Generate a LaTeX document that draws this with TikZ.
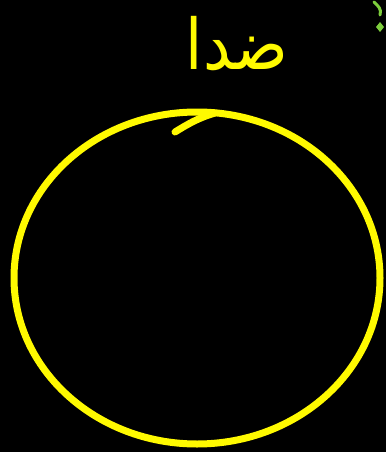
\documentclass[tikz,border=0pt]{standalone}
\usepackage{fontspec}
\TeXXeTstate=1
\newfontfamily\arabicfont[Script=Arabic]{DejaVu Sans}
\definecolor{penyellow}{RGB}{255,250,0}
\definecolor{pengreen}{RGB}{125,205,60}
\tikzset{
  pen/.style={draw=penyellow, line width=7pt, line cap=round, line join=round},
  greenpen/.style={draw=pengreen, line width=3pt, line cap=round},
}
\begin{document}
\begin{tikzpicture}[x=1pt,y=-1pt]
\fill[black] (0,0) rectangle (386,452);
\useasboundingbox (0,0) rectangle (386,452);
% circle
\draw[pen] (197,278) ellipse [x radius=183, y radius=166];
% overlapping start stroke
\draw[pen] (175,132) .. controls (188,124) and (198,118) .. (215,113);
% title
\node[text=penyellow, font=\arabicfont, xscale=6.2, yscale=7, inner sep=0] (title) at (237,44) {\beginR ضدا\endR};
% green mark at top right
\draw[greenpen] (374,2) .. controls (378,6) and (382,9) .. (380,15);
\fill[pengreen] (380,22) -- (384,27) -- (380,32) -- (376,27) -- cycle;
\end{tikzpicture}
\end{document}
